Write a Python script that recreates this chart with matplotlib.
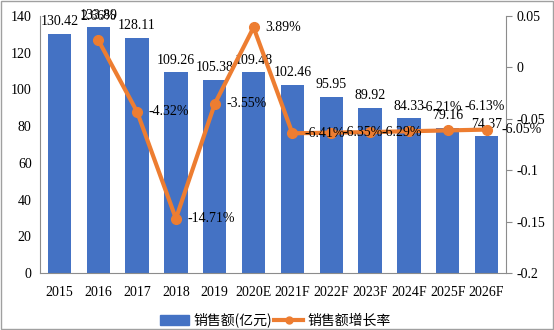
# sales and growth rate chart
import numpy as np
import matplotlib.pyplot as plt
from matplotlib.patches import Rectangle

plt.rcParams['font.family'] = ['Liberation Serif', 'Noto Sans CJK SC']

# data
years = ['2015', '2016', '2017', '2018', '2019', '2020E', '2021F',
         '2022F', '2023F', '2024F', '2025F', '2026F']
sales = [130.42, 133.89, 128.11, 109.26, 105.38, 109.48, 102.46,
         95.95, 89.92, 84.33, 79.16, 74.37]
growth = [0.0266, -0.0432, -0.1471, -0.0355, 0.0389, -0.0641,
          -0.0635, -0.0629, -0.0621, -0.0613, -0.0605]
growth_labels = ['2.66%', '-4.32%', '-14.71%', '-3.55%', '3.89%', '-6.41%',
                 '-6.35%', '-6.29%', '-6.21%', '-6.13%', '-6.05%']

blue = '#4472C4'
orange = '#ED7D31'
grey = '#8c8c8c'

fig = plt.figure(figsize=(5.54, 3.30), dpi=100)
ax = fig.add_axes([40/554, 1 - 273/330, (506-40)/554, (273-16)/330])
ax2 = ax.twinx()

x = np.arange(len(years))
ax.bar(x, sales, width=0.6, color=blue, zorder=2)
ax.set_xlim(-0.5, len(years) - 0.5)
ax.set_ylim(0, 140)
ax.set_yticks(range(0, 141, 20))
ax.set_xticks(x)
ax.set_xticklabels(years, fontsize=10)
ax.tick_params(axis='both', length=0, labelsize=10, pad=6)
ax.tick_params(axis='x', pad=9)

for i, v in enumerate(sales):
    ax.text(i, v + 3, f'{v:.2f}', ha='center', va='bottom', fontsize=10, zorder=5)

# growth line
xg = x[1:]
ax2.plot(xg, growth, color=orange, lw=3, marker='o', ms=7, zorder=3)
ax2.set_ylim(-0.2, 0.05)
ax2.set_yticks([0.05, 0, -0.05, -0.1, -0.15, -0.2])
ax2.set_yticklabels(['0.05', '0', '-0.05', '-0.1', '-0.15', '-0.2'])
ax2.tick_params(axis='y', length=4, color=grey, labelsize=10, direction='out')

offsets = {0: (0, 0.023, 'center'), 8: (0.33, 0.023, 'left'),
           9: (0.43, 0.023, 'left'), 10: (0.38, 0, 'left')}
for i, (g, lab) in enumerate(zip(growth, growth_labels)):
    dx, dy, ha = offsets.get(i, (0.3, 0, 'left'))
    ax2.text(xg[i] + dx, g + dy, lab, ha=ha, va='center', fontsize=10, zorder=6)

for a in (ax, ax2):
    a.spines['top'].set_visible(False)
    for s in ('left', 'right', 'bottom'):
        a.spines[s].set_color(grey)
ax2.spines['left'].set_visible(False)
ax2.spines['bottom'].set_visible(False)
ax.spines['right'].set_visible(False)

# legend
h1 = Rectangle((0, 0), 1, 1, color=blue)
h2, = plt.plot([], [], color=orange, lw=3, marker='o', ms=5)
fig.legend([h1, h2], ['销售额(亿元)', '销售额增长率'], loc='center',
           bbox_to_anchor=(0.497, 0.03), ncol=2, frameon=False,
           prop={'family': ['Noto Sans CJK SC'], 'size': 10},
           handlelength=2.1, columnspacing=0.15, handletextpad=0.3)

# outer border
fig.patches.append(Rectangle((0.002, 0.003), 0.996, 0.994, transform=fig.transFigure,
                             fill=False, edgecolor='#a0a0a0', lw=1))

plt.savefig('out.png', dpi=100)
